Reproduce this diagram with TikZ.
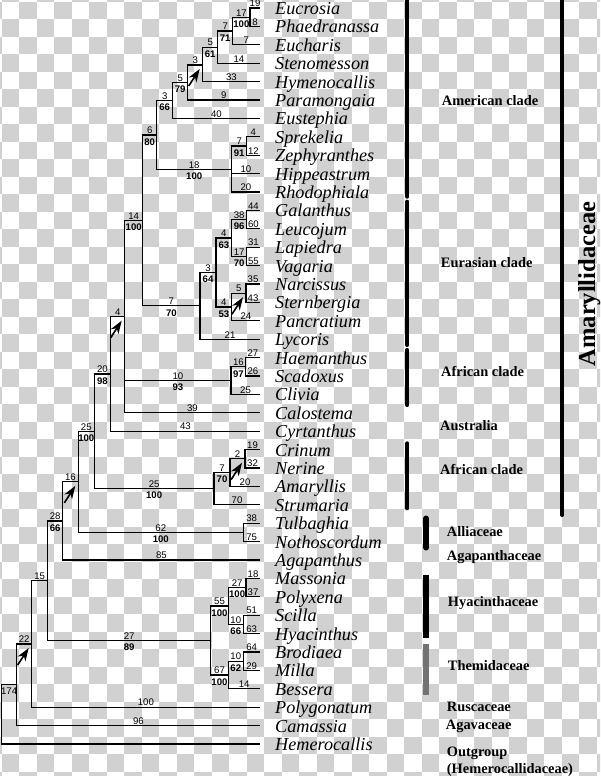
\documentclass[tikz,border=0pt]{standalone}
\usepackage{fontspec}
\setmainfont{Liberation Serif}
\newfontfamily\numfont{Liberation Sans}
\usetikzlibrary{arrows.meta}
\definecolor{checkgray}{gray}{0.82}
\tikzset{
    branch/.style={line width=1.1pt},
    lenlab/.style={pos=.75, above, inner sep=.6pt, font=\numfont\fontsize{9.6}{10}\selectfont},
    bootlab/.style={pos=.75, below, inner sep=.6pt, yshift=-2.4pt, font=\numfont\bfseries\fontsize{9.6}{10}\selectfont},
    taxon/.style={anchor=base west, inner sep=0pt, font=\fontsize{18.2}{20}\selectfont\itshape},
    cladelab/.style={anchor=base west, inner sep=0pt, font=\fontsize{14.4}{16}\selectfont\bfseries},
    cladebar/.style={line width=4pt, line cap=round},
    famibar/.style={line width=6pt},
    arrowmark/.style={-{Stealth[length=13pt,width=9pt,inset=4pt]}, line width=1.6pt}
}

\begin{document}
\begin{tikzpicture}[x=1pt, y=-1pt]
                        \useasboundingbox (0,0) rectangle (600,776);
                        % transparent backdrop
                        \begin{scope}
                            \clip (0,0) rectangle (600,776);
                            \fill[white] (0,0) rectangle (600,776);
                            \foreach \i in {-1,...,34}
                                \foreach \j in {-1,...,44}{
                                    \pgfmathtruncatemacro{\odd}{mod(\i+\j+2,2)}
                                    \ifnum\odd=1
                                        \fill[checkgray] ({1.8+17.5*\i},{1.8+17.5*\j}) rectangle ++(17.5,17.5);
                                    \fi
                                }
                        \end{scope}
                        % tips
                        \foreach \tx [count=\k] in {Eucrosia,Phaedranassa,Eucharis,Stenomesson,Hymenocallis,Paramongaia,Eustephia,Sprekelia,Zephyranthes,Hippeastrum,Rhodophiala,Galanthus,Leucojum,Lapiedra,Vagaria,Narcissus,Sternbergia,Pancratium,Lycoris,Haemanthus,Scadoxus,Clivia,Calostema,Cyrtanthus,Crinum,Nerine,Amaryllis,Strumaria,Tulbaghia,Nothoscordum,Agapanthus,Massonia,Polyxena,Scilla,Hyacinthus,Brodiaea,Milla,Bessera,Polygonatum,Camassia,Hemerocallis}{
                            \coordinate (\tx) at (260,{8+18.4*(\k-1)});
                            \node[taxon] (\tx-name) at (275,{14.5+18.4*(\k-1)}) {\tx};
                        }
                        % inner nodes
                        \coordinate (a1) at (250,17.2);
                        \coordinate (a2) at (232.7,31);
                        \coordinate (a3) at (217.7,47.1);
                        \coordinate (a4) at (202.7,65);
                        \coordinate (a5) at (187.7,82.5);
                        \coordinate (a6) at (172.7,100.5);
                        \coordinate (s1) at (246.7,146);
                        \coordinate (s2) at (231.7,169.4);
                        \coordinate (am) at (156.7,135);
                        \coordinate (g1) at (246.7,219.6);
                        \coordinate (g2) at (246.7,256.4);
                        \coordinate (g3) at (231.7,238);
                        \coordinate (g4) at (246,293.2);
                        \coordinate (g5) at (231.7,307);
                        \coordinate (g6) at (216,272.5);
                        \coordinate (eu) at (200,305.9);
                        \coordinate (ae) at (142.7,220.5);
                        \coordinate (h1) at (245.7,366.8);
                        \coordinate (af) at (231,380.6);
                        \coordinate (c1) at (124.7,316.7);
                        \coordinate (c2) at (110.7,374);
                        \coordinate (k1) at (245,458.8);
                        \coordinate (k2) at (230,472.6);
                        \coordinate (k3) at (214,488.7);
                        \coordinate (amy) at (94.3,431.3);
                        \coordinate (t1) at (243.3,532.4);
                        \coordinate (b1) at (78.3,481.9);
                        \coordinate (b2) at (62.7,521);
                        \coordinate (y1) at (246,587.6);
                        \coordinate (y2) at (243.3,624.4);
                        \coordinate (y3) at (228.3,606);
                        \coordinate (m1) at (243.3,661.2);
                        \coordinate (m2) at (228.3,675);
                        \coordinate (hm) at (210.7,640.5);
                        \coordinate (b3) at (47.7,580.8);
                        \coordinate (b4) at (31.7,644);
                        \coordinate (b5) at (16.7,684.8);
                        \coordinate (root) at (1.5,714.4);
                        % American clade
                        \draw[branch] (a1) |- (Eucrosia) node[lenlab]{19};
                        \draw[branch] (a1) |- (Phaedranassa) node[lenlab]{8};
                        \draw[branch] (a2) |- (a1) node[lenlab]{17} node[bootlab]{100};
                        \draw[branch] (a2) |- (Eucharis) node[lenlab]{7};
                        \draw[branch] (a3) |- (a2) node[lenlab]{7} node[bootlab]{71};
                        \draw[branch] (a3) |- (Stenomesson) node[lenlab]{14};
                        \draw[branch] (a4) |- (a3) node[lenlab]{5} node[bootlab]{61};
                        \draw[branch] (a4) |- (Hymenocallis) node[lenlab]{33};
                        \draw[branch] (a5) |- (a4) node[lenlab]{3};
                        \draw[branch] (a5) |- (Paramongaia) node[lenlab]{9};
                        \draw[branch] (a6) |- (a5) node[lenlab]{5} node[bootlab]{79};
                        \draw[branch] (a6) |- (Eustephia) node[lenlab]{40};
                        \draw[branch] (s1) |- (Sprekelia) node[lenlab]{4};
                        \draw[branch] (s1) |- (Zephyranthes) node[lenlab]{12};
                        \draw[branch] (s2) |- (s1) node[lenlab]{7} node[bootlab]{91};
                        \draw[branch] (s2) |- (Hippeastrum) node[lenlab]{10};
                        \draw[branch] (s2) |- (Rhodophiala) node[lenlab]{20};
                        \draw[branch] (am) |- (a6) node[lenlab]{3} node[bootlab]{66};
                        \draw[branch] (am) |- (s2) node[lenlab]{18} node[bootlab]{100};
                        % Eurasian clade
                        \draw[branch] (g1) |- (Galanthus) node[lenlab]{44};
                        \draw[branch] (g1) |- (Leucojum) node[lenlab]{60};
                        \draw[branch] (g2) |- (Lapiedra) node[lenlab]{31};
                        \draw[branch] (g2) |- (Vagaria) node[lenlab]{55};
                        \draw[branch] (g3) |- (g1) node[lenlab]{38} node[bootlab]{96};
                        \draw[branch] (g3) |- (g2) node[lenlab]{17} node[bootlab]{70};
                        \draw[branch] (g4) |- (Narcissus) node[lenlab]{35};
                        \draw[branch] (g4) |- (Sternbergia) node[lenlab]{43};
                        \draw[branch] (g5) |- (g4) node[lenlab]{5};
                        \draw[branch] (g5) |- (Pancratium) node[lenlab]{24};
                        \draw[branch] (g6) |- (g3) node[lenlab]{4} node[bootlab]{63};
                        \draw[branch] (g6) |- (g5) node[lenlab]{4} node[bootlab]{53};
                        \draw[branch] (eu) |- (g6) node[lenlab]{3} node[bootlab]{64};
                        \draw[branch] (eu) |- (Lycoris) node[lenlab]{21};
                        \draw[branch] (ae) |- (am) node[lenlab]{6} node[bootlab]{80};
                        \draw[branch] (ae) |- (eu) node[lenlab]{7} node[bootlab]{70};
                        % African, Australian and the rest of Amaryllidaceae
                        \draw[branch] (h1) |- (Haemanthus) node[lenlab]{27};
                        \draw[branch] (h1) |- (Scadoxus) node[lenlab]{26};
                        \draw[branch] (af) |- (h1) node[lenlab]{16} node[bootlab]{97};
                        \draw[branch] (af) |- (Clivia) node[lenlab]{25};
                        \draw[branch] (c1) |- (ae) node[lenlab]{14} node[bootlab]{100};
                        \draw[branch] (c1) |- (af) node[lenlab]{10} node[bootlab]{93};
                        \draw[branch] (c1) |- (Calostema) node[lenlab]{39};
                        \draw[branch] (c2) |- (c1) node[lenlab]{4};
                        \draw[branch] (c2) |- (Cyrtanthus) node[lenlab]{43};
                        \draw[branch] (k1) |- (Crinum) node[lenlab]{19};
                        \draw[branch] (k1) |- (Nerine) node[lenlab]{32};
                        \draw[branch] (k2) |- (k1) node[lenlab]{2};
                        \draw[branch] (k2) |- (Amaryllis) node[lenlab]{20};
                        \draw[branch] (k3) |- (k2) node[lenlab]{7} node[bootlab]{70};
                        \draw[branch] (k3) |- (Strumaria) node[lenlab]{70};
                        \draw[branch] (amy) |- (c2) node[lenlab]{20} node[bootlab]{98};
                        \draw[branch] (amy) |- (k3) node[lenlab]{25} node[bootlab]{100};
                        % outgroups
                        \draw[branch] (t1) |- (Tulbaghia) node[lenlab]{38};
                        \draw[branch] (t1) |- (Nothoscordum) node[lenlab]{75};
                        \draw[branch] (b1) |- (amy) node[lenlab]{25} node[bootlab]{100};
                        \draw[branch] (b1) |- (t1) node[lenlab]{62} node[bootlab]{100};
                        \draw[branch] (b2) |- (b1) node[lenlab]{16};
                        \draw[branch] (b2) |- (Agapanthus) node[lenlab]{85};
                        \draw[branch] (y1) |- (Massonia) node[lenlab]{18};
                        \draw[branch] (y1) |- (Polyxena) node[lenlab]{37};
                        \draw[branch] (y2) |- (Scilla) node[lenlab]{51};
                        \draw[branch] (y2) |- (Hyacinthus) node[lenlab]{63};
                        \draw[branch] (y3) |- (y1) node[lenlab]{27} node[bootlab]{100};
                        \draw[branch] (y3) |- (y2) node[lenlab]{10} node[bootlab]{66};
                        \draw[branch] (m1) |- (Brodiaea) node[lenlab]{64};
                        \draw[branch] (m1) |- (Milla) node[lenlab]{29};
                        \draw[branch] (m2) |- (m1) node[lenlab]{10} node[bootlab]{62};
                        \draw[branch] (m2) |- (Bessera) node[lenlab]{14};
                        \draw[branch] (hm) |- (y3) node[lenlab]{55} node[bootlab]{100};
                        \draw[branch] (hm) |- (m2) node[lenlab]{67} node[bootlab]{100};
                        \draw[branch] (b3) |- (b2) node[lenlab]{28} node[bootlab]{66};
                        \draw[branch] (b3) |- (hm) node[lenlab]{27} node[bootlab]{89};
                        \draw[branch] (b4) |- (b3) node[lenlab]{15};
                        \draw[branch] (b4) |- (Polygonatum) node[lenlab]{100};
                        \draw[branch] (b5) |- (b4) node[lenlab]{22};
                        \draw[branch] (b5) |- (Camassia) node[lenlab]{96};
                        \draw[branch] (root) |- (b5) node[bootlab, font=\numfont\fontsize{9.6}{10}\selectfont]{174};
                        \draw[branch] (root) |- (Hemerocallis);
                        % decay arrows
                        \foreach \nd in {a4,g4,c1,k1,b1,b4}
                            \draw[arrowmark] (\nd) ++(-14,21) -- ++(11,-17);
                        % clade bars
                        \draw[cladebar] (407.3,-3) -- (407.3,196.7);
                        \draw[cladebar] (407.3,201.7) -- (407.3,345);
                        \draw[cladebar] (407.3,350) -- (407.3,405);
                        \draw[cladebar] (407.3,443.3) -- (407.3,508.3);
                        \draw[cladebar] (562.3,-3) -- (562.3,515);
                        \draw[famibar, line cap=round] (426.3,518.5) -- (426.3,547.5);
                        \draw[famibar] (426.3,575) -- (426.3,638.3);
                        \draw[famibar, black!55] (426.3,644.3) -- (426.3,695);
                        % clade names
                        \node[cladelab] (american) at (441.7,105) {American clade};
                        \node[cladelab] (eurasian) at (440.7,267) {Eurasian clade};
                        \node[cladelab] (african) at (441,376.4) {African clade};
                        \node[cladelab] (australia) at (440,430.7) {Australia};
                        \node[cladelab] (african2) at (440,474.7) {African clade};
                        \node[cladelab] (alliac) at (446.7,536.4) {Alliaceae};
                        \node[cladelab] (agapan) at (446.7,560.7) {Agapanthaceae};
                        \node[cladelab] (hyacin) at (447.7,606.3) {Hyacinthaceae};
                        \node[cladelab] (themid) at (447.7,670.7) {Themidaceae};
                        \node[cladelab] (ruscac) at (446.7,711.3) {Ruscaceae};
                        \node[cladelab] (agavac) at (445.7,729.7) {Agavaceae};
                        \node[cladelab] (outgrp) at (446.7,756.4) {Outgroup};
                        \node[cladelab] (hemcal) at (446.7,773) {(Hemerocallidaceae)};
                        \node[rotate=90, anchor=base, inner sep=0pt, font=\fontsize{24.5}{26}\selectfont\bfseries] (amaryl) at (595,284) {Amaryllidaceae};
                    \end{tikzpicture}
\end{document}
